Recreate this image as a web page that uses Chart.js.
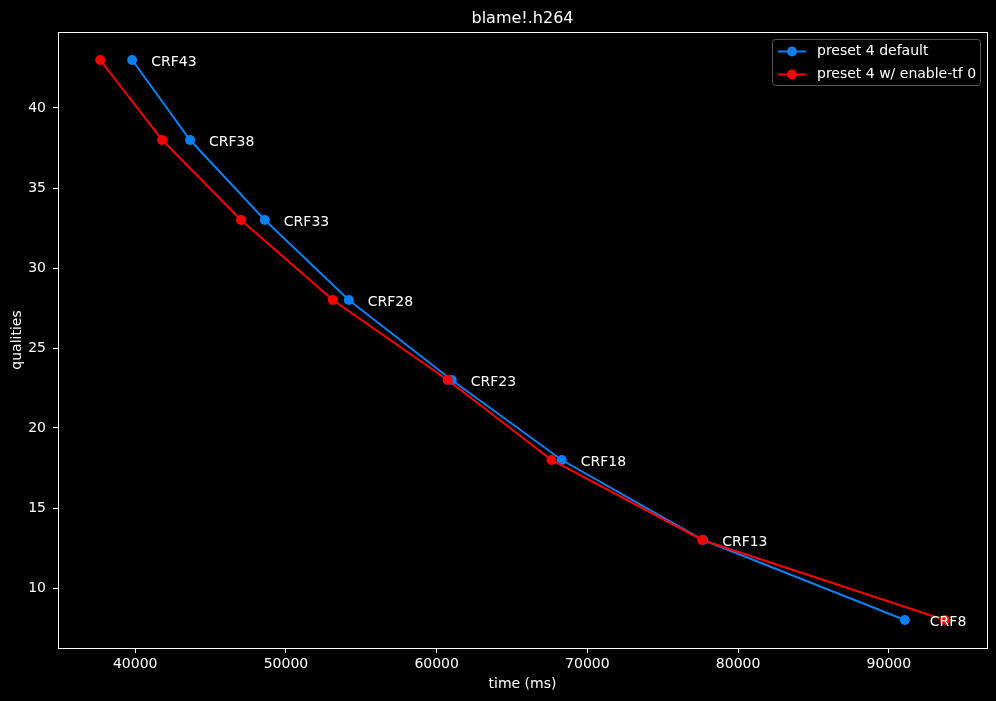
<!DOCTYPE html>
<html>
<head>
<meta charset="utf-8">
<script src="https://cdn.jsdelivr.net/npm/chart.js@4.4.1/dist/chart.umd.min.js"></script>
<style>
  html, body { margin:0; padding:0; background:#000; }
  canvas { display:block; }
</style>
</head>
<body>
<canvas id="chart" width="996" height="701"></canvas>
<script>
// data
const qualities = [43, 38, 33, 28, 23, 18, 13, 8];
const crfLabels = ['CRF43', 'CRF38', 'CRF33', 'CRF28', 'CRF23', 'CRF18', 'CRF13', 'CRF8'];
const timeDefault = [39800, 43640, 48600, 54170, 61000, 68300, 77680, 91060];
const timeTf = [37680, 41790, 47020, 53110, 60730, 67620, 77620, 93710];
const xTicks = [40000, 50000, 60000, 70000, 80000, 90000];
const yTicks = [10, 15, 20, 25, 30, 35, 40];

const blue = '#0b80f4';
const red = '#ff0000';
const font = "'DejaVu Sans', sans-serif";

// matplotlib style 5% margins
function pad(arr) {
  const lo = Math.min(...arr), hi = Math.max(...arr);
  const m = (hi - lo) * 0.05;
  return [lo - m, hi + m];
}
const [xMin, xMax] = pad(timeDefault.concat(timeTf));
const [yMin, yMax] = pad(qualities);

function pts(xs) {
  return xs.map((x, i) => ({ x: x, y: qualities[i] }));
}

const extras = {
  id: 'extras',
  beforeDraw(chart) {
    const c = chart.ctx;
    c.save();
    c.fillStyle = '#000';
    c.fillRect(0, 0, chart.width, chart.height);
    c.restore();
  },
  afterDraw(chart) {
    const c = chart.ctx;
    const a = chart.chartArea;
    const xs = chart.scales.x, ys = chart.scales.y;
    c.save();
    // frame
    c.strokeStyle = '#fff';
    c.lineWidth = 1;
    c.strokeRect(Math.round(a.left) + 0.5, Math.round(a.top) + 0.5,
      Math.round(a.right - a.left), Math.round(a.bottom - a.top));

    // CRF labels next to the default series
    c.fillStyle = '#fff';
    c.font = '14px ' + font;
    c.textAlign = 'left';
    c.textBaseline = 'middle';
    crfLabels.forEach((t, i) => {
      // last label sits a bit further right in the original
      const dx = i === crfLabels.length - 1 ? 25 : 19;
      c.fillText(t, xs.getPixelForValue(timeDefault[i]) + dx, ys.getPixelForValue(qualities[i]) + 2.5);
    });

    // title + axis titles
    c.textAlign = 'center';
    c.font = '16px ' + font;
    c.fillText('blame!.h264', (a.left + a.right) / 2, 19);
    c.font = '14px ' + font;
    c.fillText('time (ms)', (a.left + a.right) / 2, 684);
    c.save();
    c.translate(17, (a.top + a.bottom) / 2);
    c.rotate(-Math.PI / 2);
    c.fillText('qualities', 0, 0);
    c.restore();

    // legend
    const lx = 772, ly = 39, lw = 208, lh = 46;
    c.beginPath();
    c.roundRect(lx + 0.5, ly + 0.5, lw, lh, 3);
    c.fillStyle = '#000';
    c.fill();
    c.strokeStyle = '#555';
    c.stroke();
    chart.data.datasets.forEach((ds, i) => {
      const yy = ly + 12.5 + i * 23;
      c.strokeStyle = ds.borderColor;
      c.lineWidth = 2;
      c.beginPath();
      c.moveTo(lx + 6, yy);
      c.lineTo(lx + 34, yy);
      c.stroke();
      c.fillStyle = ds.borderColor;
      c.beginPath();
      c.arc(lx + 20, yy, 5, 0, Math.PI * 2);
      c.fill();
      c.fillStyle = '#fff';
      c.textAlign = 'left';
      c.font = '14px ' + font;
      c.fillText(ds.label, lx + 45, yy);
    });
    c.restore();
  }
};

new Chart(document.getElementById('chart'), {
  type: 'line',
  data: {
    datasets: [
      {
        label: 'preset 4 default',
        data: pts(timeDefault),
        borderColor: blue,
        backgroundColor: blue,
        borderWidth: 2,
        pointRadius: 5,
        pointHoverRadius: 5,
        pointBorderWidth: 0,
        order: 2
      },
      {
        label: 'preset 4 w/ enable-tf 0',
        data: pts(timeTf),
        borderColor: red,
        backgroundColor: red,
        borderWidth: 2,
        pointRadius: 5,
        pointHoverRadius: 5,
        pointBorderWidth: 0,
        order: 1
      }
    ]
  },
  options: {
    responsive: false,
    animation: false,
    devicePixelRatio: 1,
    layout: { padding: { top: 32, right: 9, left: 0, bottom: 0 } },
    plugins: {
      legend: { display: false },
      title: { display: false },
      tooltip: { enabled: false }
    },
    scales: {
      x: {
        type: 'linear',
        min: xMin,
        max: xMax,
        afterBuildTicks: s => { s.ticks = xTicks.map(v => ({ value: v })); },
        afterFit: s => { s.height = 53; },
        grid: { drawOnChartArea: false, color: '#fff', tickLength: 5, tickColor: '#fff' },
        border: { display: false },
        ticks: { color: '#fff', font: { family: font, size: 14 }, padding: 3, maxRotation: 0,
          callback: v => String(v) }
      },
      y: {
        type: 'linear',
        min: yMin,
        max: yMax,
        afterBuildTicks: s => { s.ticks = yTicks.map(v => ({ value: v })); },
        afterFit: s => { s.width = 58; },
        grid: { drawOnChartArea: false, color: '#fff', tickLength: 5, tickColor: '#fff' },
        border: { display: false },
        ticks: { color: '#fff', font: { family: font, size: 14 }, padding: 7,
          callback: v => String(v) }
      }
    }
  },
  plugins: [extras]
});
</script>
</body>
</html>
